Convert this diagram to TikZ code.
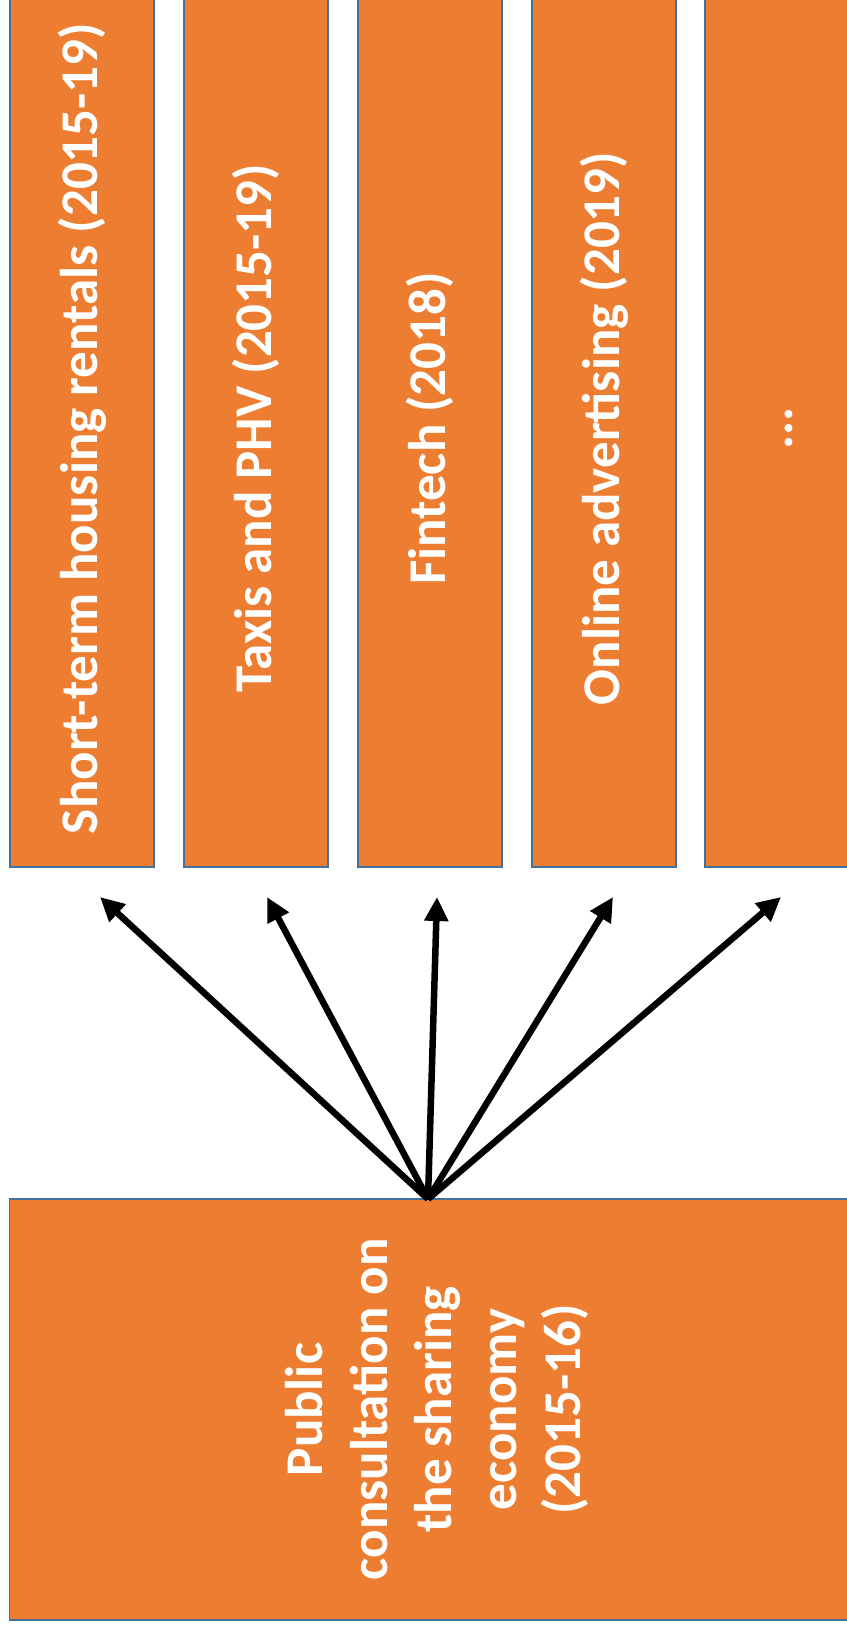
\documentclass[tikz,border=0pt]{standalone}
\usepackage{fontspec}
\setmainfont{Carlito}
\usetikzlibrary{arrows.meta}
\definecolor{accent}{RGB}{237,125,49}
\definecolor{edge}{RGB}{65,113,156}

\begin{document}
\begin{tikzpicture}[x=1pt, y=-1pt,
  box/.style={draw=edge, line width=1.3pt, fill=accent, text=white, rotate=90, inner sep=0pt,
    font=\fontsize{53}{64.5}\selectfont\bfseries},
  topic/.style={box, minimum width=877pt, minimum height=144pt},
  arr/.style={-{Triangle[length=24pt, width=23pt]}, line width=6.5pt, black}]
    \useasboundingbox (0,0) rectangle (846,1632);

    % topics
    \node[topic] (housing) at (82,428.5) {Short-term housing rentals (2015-19)};
    \node[topic] (taxi) at (256,428.5) {Taxis and PHV (2015-19)};
    \node[topic] (fintech) at (430,428.5) {Fintech (2018)};
    \node[topic] (ads) at (604,428.5) {Online advertising (2019)};
    \node[topic] (more) at (777,428.5) {\vphantom{()}...};

    % consultation
    \node[box, minimum width=421pt, minimum height=855pt, align=center] (consult) at (437,1409.5)
      {Public\\consultation on\\the sharing\\economy\\(2015-16)};

    % arrows
    \coordinate (hub) at (428,1199);
    \coordinate (t1) at (100,897);
    \coordinate (t2) at (267,897);
    \coordinate (t3) at (437,897);
    \coordinate (t4) at (613,897);
    \coordinate (t5) at (781,897);
    \foreach \i in {1,...,5}
      \draw[arr] (hub) -- (t\i);
\end{tikzpicture}
\end{document}
